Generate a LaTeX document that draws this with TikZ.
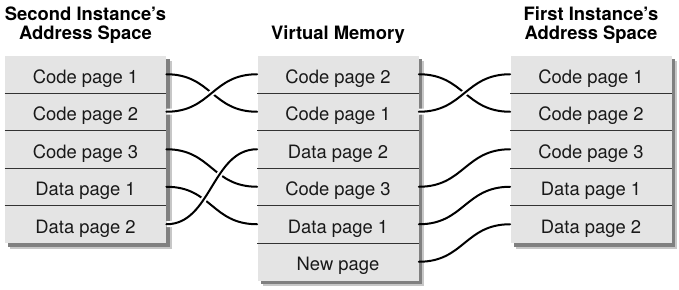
\documentclass[tikz,border=0pt]{standalone}
\usepackage{fontspec}
\setmainfont{TeX Gyre Heros}
\definecolor{pagegray}{HTML}{E4E4E4}
\begin{document}
\begin{tikzpicture}[x=0.5pt, y=-0.5pt, line join=round,
    font=\fontsize{9.2}{9.6}\selectfont,
    page/.style={minimum width=80.5pt, minimum height=18.75pt, inner sep=0pt, text height=10.6pt, text depth=1.8pt, fill=pagegray, text=black!90},
    title/.style={font=\fontsize{9.2}{9.6}\selectfont\bfseries, align=center, anchor=south, inner sep=0pt},
    divider/.style={line width=0.5pt, black!80},
    wire/.style={line width=1pt, line cap=round},
    over/.style={preaction={draw, white, line width=3pt, line cap=butt}}]
    \useasboundingbox (0,0) rectangle (679,289);
    \def\ytop{55.5}\def\rowh{37.5}
    % shadows under the three columns
    \foreach \xa/\xb/\n in {5/166/5, 258/418/6, 511/671/5} {
        \fill[black!22] (\xa+5,{\ytop+5}) rectangle (\xb+5.5,{\ytop+\n*\rowh+5.5});
        \fill[black!50] (\xa+3,{\ytop+3}) rectangle (\xb+3.5,{\ytop+\n*\rowh+3.5});
    }
    % page rows
    \foreach \t [count=\i] in {Code page 1,Code page 2,Code page 3,Data page 1,Data page 2}
        \node[page] (l\i) at (85.5,{\ytop+(\i-0.5)*\rowh}) {\t};
    \foreach \t [count=\i] in {Code page 2,Code page 1,Data page 2,Code page 3,Data page 1,New page}
        \node[page] (m\i) at (338,{\ytop+(\i-0.5)*\rowh}) {\t};
    \foreach \t [count=\i] in {Code page 1,Code page 2,Code page 3,Data page 1,Data page 2}
        \node[page] (r\i) at (591,{\ytop+(\i-0.5)*\rowh}) {\t};
    \foreach \i in {1,...,4} {
        \draw[divider] (l\i.south west) -- (l\i.south east);
        \draw[divider] (r\i.south west) -- (r\i.south east);
    }
    \foreach \i in {1,...,5} \draw[divider] (m\i.south west) -- (m\i.south east);
    % headings
    \node[title] (lefthead) at (85.5,44) {Second Instance's\\Address Space};
    \node[title] (midhead) at (338,44) {Virtual Memory};
    \node[title] (righthead) at (591,44) {First Instance's\\Address Space};
    % second instance -> virtual memory
    \draw[wire] (l1.east) .. controls +(45,0) and +(-45,0) .. (m2.west);
    \draw[wire] (l3.east) .. controls +(45,0) and +(-45,0) .. (m4.west);
    \draw[wire] (l4.east) .. controls +(45,0) and +(-45,0) .. (m5.west);
    \draw[wire, over] (l2.east) .. controls +(45,0) and +(-45,0) .. (m1.west);
    \draw[wire, over] (l5.east) .. controls +(45,0) and +(-45,0) .. (m3.west);
    % virtual memory -> first instance
    \draw[wire] (m1.east) .. controls +(45,0) and +(-45,0) .. (r2.west);
    \draw[wire, over] (m2.east) .. controls +(45,0) and +(-45,0) .. (r1.west);
    \draw[wire] (m4.east) .. controls +(45,0) and +(-45,0) .. (r3.west);
    \draw[wire] (m5.east) .. controls +(45,0) and +(-45,0) .. (r4.west);
    \draw[wire] (m6.east) .. controls +(45,0) and +(-45,0) .. (r5.west);
\end{tikzpicture}
\end{document}
